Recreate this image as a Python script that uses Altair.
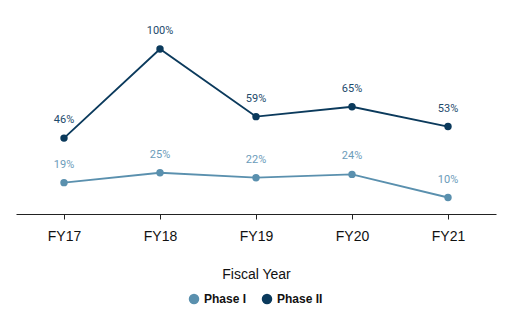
import altair as alt
import pandas as pd

years = ["FY17", "FY18", "FY19", "FY20", "FY21"]
phase1 = [19, 25, 22, 24, 10]
phase2 = [46, 100, 59, 65, 53]
series = ["Phase I", "Phase II"]
colors = ["#5a90ae", "#0b3a5c"]
label_colors = ["#6b9cba", "#1d4a6b"]

rows = []
for s, vals, lc in zip(series, [phase1, phase2], label_colors):
    for y, v in zip(years, vals):
        rows.append({"year": y, "value": v, "series": s, "label": f"{v}%", "lcolor": lc})
df = pd.DataFrame(rows)

x = alt.X("year:N", sort=years, scale=alt.Scale(type="point", padding=0.5),
          axis=alt.Axis(title="Fiscal Year", labelAngle=0, labelFontSize=14,
                        labelFont="Liberation Sans", labelColor="#111111",
                        labelPadding=10, tickSize=5, tickColor="#222222",
                        domainColor="#222222", titleFontSize=14,
                        titleFont="Liberation Sans", titleFontWeight="normal",
                        titleColor="#111111", titlePadding=24, grid=False))
y = alt.Y("value:Q", scale=alt.Scale(domain=[0, 120], nice=False), axis=None)
color = alt.Color("series:N", scale=alt.Scale(domain=series, range=colors),
                  legend=alt.Legend(title=None, orient="none", direction="horizontal",
                                    legendX=172, legendY=277,
                                    symbolType="circle", symbolSize=110, symbolOpacity=1,
                                    symbolStrokeWidth=0,
                                    labelFont="Liberation Sans", labelFontSize=12,
                                    labelFontWeight="bold", labelColor="#111111",
                                    columnPadding=14))

base = alt.Chart(df).encode(x=x, y=y)
lines = base.mark_line(strokeWidth=1.8).encode(color=color)
points = base.mark_circle(size=55, opacity=1).encode(color=color)
texts = base.mark_text(dy=-18, fontSize=11, font="Roboto").encode(
    text="label:N",
    color=alt.Color("lcolor:N", scale=None))

chart = alt.layer(lines, points, texts).properties(
    width=480, height=198,
    background="white",
    autosize=alt.AutoSizeParams(type="none"),
    padding={"left": 16, "top": 16, "right": 16, "bottom": 107},
).configure_view(stroke=None)

chart.save("out.html", embed_options={"renderer": "svg", "actions": False})
